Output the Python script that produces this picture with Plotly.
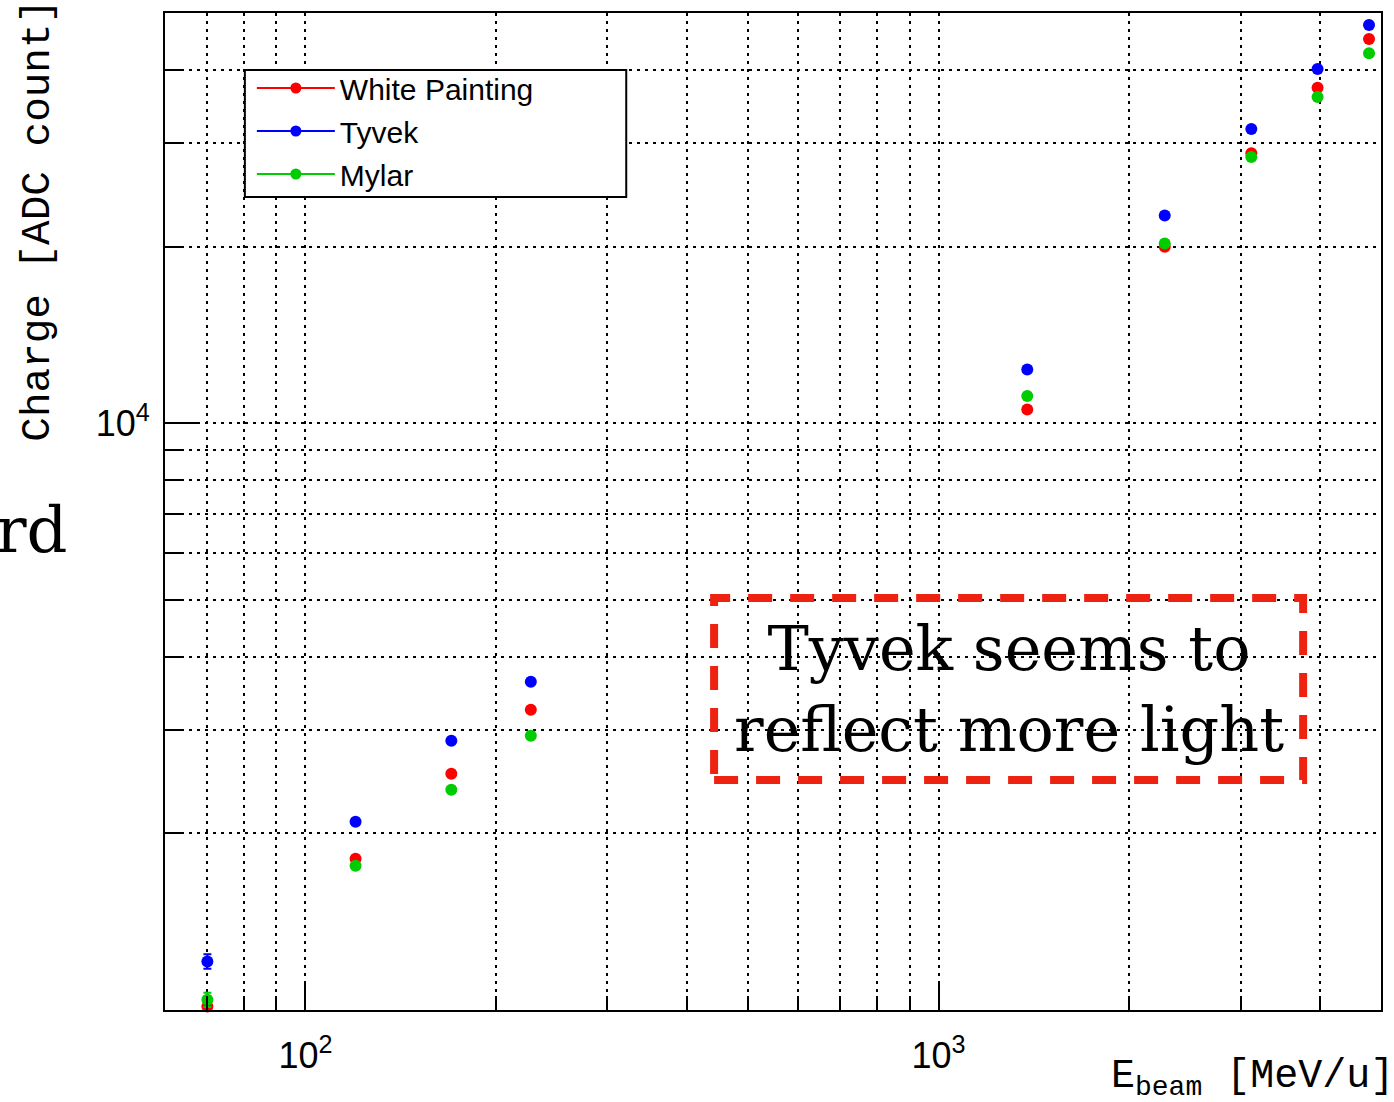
import math
import plotly.graph_objects as go

# ---------------- data ----------------
energy = [70, 120, 170, 227, 1381, 2277, 3120, 3970, 4787]          # E_beam [MeV/u]
white_painting = [1014, 1810, 2527, 3248, 10548, 19990, 28840, 37300, 45150]
tyvek = [1210, 2093, 2876, 3625, 12340, 22580, 31720, 40140, 47700]
mylar = [1041, 1761, 2373, 2933, 11130, 20230, 28420, 35960, 42690]
white_err = [28, 15, 20, 25, 80, 150, 200, 260, 300]
tyvek_err = [34, 17, 22, 28, 90, 170, 220, 280, 330]
mylar_err = [29, 14, 18, 22, 85, 150, 200, 250, 300]

series_names = ["White Painting", "Tyvek", "Mylar"]
series_colors = ["#FF0000", "#0000FF", "#00CC00"]

x_major = [100, 1000]
x_major_text = ["10<sup>2</sup>", "10<sup>3</sup>"]
x_minor = [70, 80, 90, 200, 300, 400, 500, 600, 700, 800, 900, 2000, 3000, 4000]
y_major = [10000]
y_major_text = ["10<sup>4</sup>"]
y_minor = [2000, 3000, 4000, 5000, 6000, 7000, 8000, 9000, 20000, 30000, 40000]

x_range = [60, 5000]
y_range = [1000, 50000]

note_text = "Tyvek seems to<br>reflect more light"
x_title = "E<sub>beam</sub> [MeV/u]"
y_title = "Charge [ADC count]"
side_text = "rd"

# ---------------- layout constants ----------------
W, H = 1394, 1102
ML, MR, MT, MB = 165, 11, 13, 92
PW, PH = W - ML - MR, H - MT - MB


def px_x(p):
    return (p - ML) / PW


def px_y(p):
    return (H - MB - p) / PH


GRID = dict(showgrid=True, gridcolor="black", gridwidth=2, griddash="3px,5px")

fig = go.Figure()

values = [white_painting, tyvek, mylar]
errors = [white_err, tyvek_err, mylar_err]
for name, col, vals, errs in zip(series_names, series_colors, values, errors):
    fig.add_trace(go.Scatter(
        x=energy, y=vals, mode="markers", name=name, showlegend=False,
        marker=dict(color=col, size=12, line=dict(width=0)),
        error_y=dict(type="data", array=errs, visible=True, color=col,
                     thickness=2, width=4),
        cliponaxis=False,
    ))

# legend entries (line + marker sample, like the reference legend)
for name, col in zip(series_names, series_colors):
    fig.add_trace(go.Scatter(
        x=[None], y=[None], mode="lines+markers", name=name,
        legendgroup=name,
        line=dict(color=col, width=2),
        marker=dict(color=col, size=11),
    ))

fig.update_layout(
    width=W, height=H,
    margin=dict(l=ML, r=MR, t=MT, b=MB),
    paper_bgcolor="white", plot_bgcolor="white",
    showlegend=True,
    legend=dict(
        x=px_x(252), y=px_y(62), xanchor="left", yanchor="top",
        bgcolor="rgba(0,0,0,0)", borderwidth=0,
        font=dict(family="Liberation Sans", size=30, color="black"),
        tracegroupgap=1, itemwidth=78,
    ),
    xaxis=dict(
        type="log", range=[math.log10(x_range[0]), math.log10(x_range[1])],
        tickmode="array", tickvals=x_major, ticktext=x_major_text,
        ticks="inside", ticklen=29, tickwidth=2, tickcolor="black",
        showline=True, linewidth=2, linecolor="black", mirror=True,
        zeroline=False, ticklabelstandoff=13,
        tickfont=dict(family="Liberation Sans", size=36, color="black"),
        minor=dict(tickmode="array", tickvals=x_minor, ticks="inside",
                   ticklen=14, tickwidth=2, tickcolor="black", **GRID),
        **GRID,
    ),
    yaxis=dict(
        type="log", range=[math.log10(y_range[0]), math.log10(y_range[1])],
        tickmode="array", tickvals=y_major, ticktext=y_major_text,
        ticks="inside", ticklen=35, tickwidth=2, tickcolor="black",
        showline=True, linewidth=2, linecolor="black", mirror=True,
        zeroline=False, ticklabelstandoff=6,
        tickfont=dict(family="Liberation Sans", size=36, color="black"),
        minor=dict(tickmode="array", tickvals=y_minor, ticks="inside",
                   ticklen=18, tickwidth=2, tickcolor="black", **GRID),
        **GRID,
    ),
)

# legend frame (white box with black border, as in the reference)
fig.add_shape(type="rect", xref="paper", yref="paper",
              x0=px_x(245), x1=px_x(627), y0=px_y(197), y1=px_y(70),
              line=dict(color="black", width=2), fillcolor="white",
              layer="above")

# red dashed box around the comment
fig.add_shape(type="rect", xref="paper", yref="paper",
              x0=px_x(715), x1=px_x(1305), y0=px_y(780), y1=px_y(598),
              line=dict(color="#EE2211", width=8, dash="24px,18px"),
              fillcolor="rgba(0,0,0,0)", layer="above")

fig.add_annotation(text=note_text, xref="paper", yref="paper",
                   x=px_x(1010), y=px_y(689), xanchor="center", yanchor="middle",
                   showarrow=False, align="center",
                   font=dict(family="DejaVu Serif", size=62, color="black"))

# axis titles (ROOT style: right/top aligned)
fig.add_annotation(text=x_title, xref="paper", yref="paper",
                   x=px_x(1398), y=px_y(1078), xanchor="right", yanchor="middle",
                   showarrow=False,
                   font=dict(family="Liberation Mono", size=40, color="black"))
fig.add_annotation(text=y_title, xref="paper", yref="paper",
                   x=px_x(37), y=px_y(-3), xanchor="center", yanchor="top",
                   textangle=-90, showarrow=False,
                   font=dict(family="Liberation Mono", size=41, color="black"))

# fragment of slide text visible at the left edge
fig.add_annotation(text=side_text, xref="paper", yref="paper",
                   x=px_x(70), y=px_y(530), xanchor="right", yanchor="middle",
                   showarrow=False,
                   font=dict(family="DejaVu Serif", size=64, color="black"))

fig.write_html("out.html", config={"displayModeBar": False},
               post_script="document.body.style.margin='0px';")
